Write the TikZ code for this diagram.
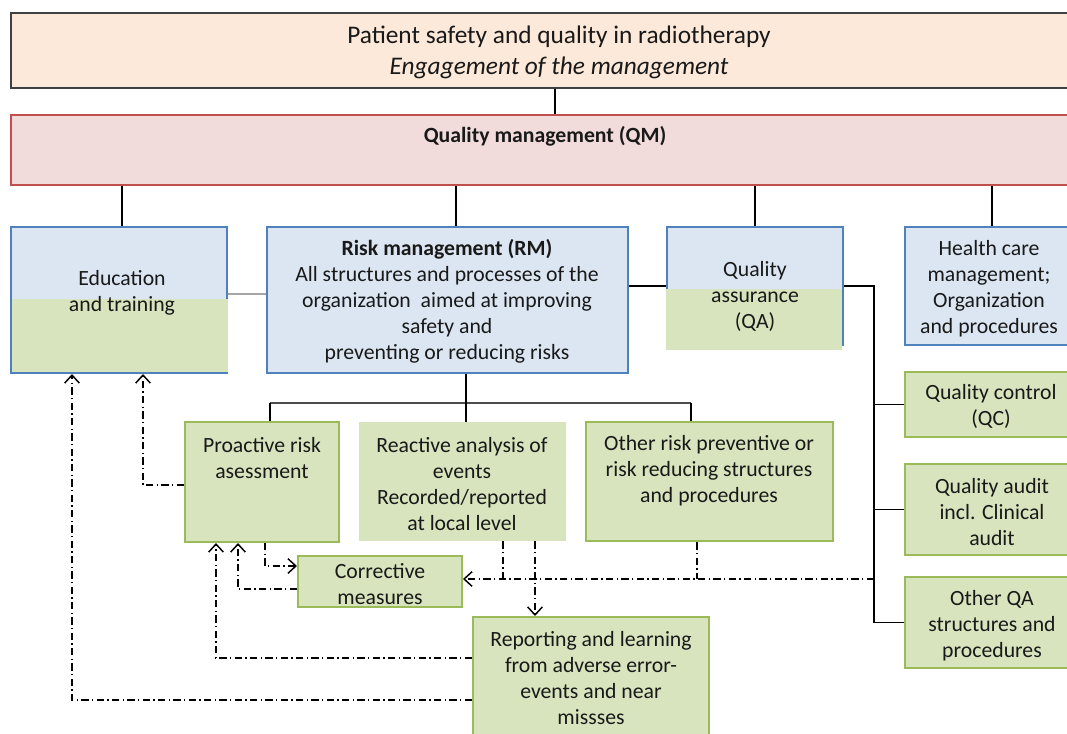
\documentclass[tikz,border=0pt]{standalone}
\usepackage{fontspec}
\setmainfont{Carlito}
\usetikzlibrary{fit,arrows.meta}
\definecolor{bfill}{HTML}{DCE6F2}
\definecolor{bline}{HTML}{4F81BD}
\definecolor{gfill}{HTML}{D7E4BD}
\definecolor{gline}{HTML}{9BBB59}
\definecolor{pfill}{HTML}{FDE9D9}
\definecolor{rfill}{HTML}{F2DCDB}
\definecolor{rline}{HTML}{C0504D}
\begin{document}
\begin{tikzpicture}[x=0.75pt,y=-0.75pt,
  font=\fontsize{16.3}{19.5}\selectfont,
  bluebox/.style={draw=bline,fill=bfill,line width=1.5pt,inner sep=0pt},
  greenbox/.style={draw=gline,fill=gfill,line width=1.5pt,inner sep=0pt},
  txt/.style={align=center,inner sep=0pt,text=black!90},
  conn/.style={draw=black,line width=0.8pt},
  dd/.style={line width=1.1pt,dash pattern=on 5.5pt off 2.5pt on 1pt off 2.5pt},
  arr/.style={-{Straight Barb[length=6pt,width=11pt]}}]
\useasboundingbox (0,0) rectangle (1067,733);
\clip (0,0) rectangle (1067,733);
% boxes
\node[fit={(11,13)(1099,88)},inner sep=0pt,fill=pfill,draw=black!75,line width=1.2pt] (top) {};
\node[fit={(11,115)(1099,185)},inner sep=0pt,fill=rfill,draw=rline,line width=2pt] (qm) {};
\node[bluebox,fit={(11,227)(227,373)}] (edu) {};
\fill[gfill] (12,299) rectangle (228,372);
\draw[bline,line width=1.5pt] (11,299) -- (11,373) -- (227,373);
\node[bluebox,fit={(267,227)(628,373)}] (rm) {};
\node[bluebox,fit={(667,227)(843,345)}] (qa) {};
\fill[gfill] (666,289) rectangle (842,350);
\node[bluebox,fit={(905,227)(1079,345)}] (hc) {};
\node[greenbox,fit={(905,372)(1079,437)}] (qc) {};
\node[greenbox,fit={(905,464)(1079,555)}] (aud) {};
\node[greenbox,fit={(905,577)(1079,668)}] (oqa) {};
\node[greenbox,fit={(185,422)(339,542)}] (pro) {};
\node[fit={(359,422)(566,541)},inner sep=0pt,fill=gfill] (rea) {};
\node[greenbox,line width=2pt,fit={(586,422)(833,541)}] (oth) {};
\node[greenbox,fit={(298,556)(462,607)}] (cor) {};
\node[greenbox,fit={(473,617)(709,760)}] (rep) {};
% texts
\node[txt,font=\fontsize{19}{23.3}\selectfont] (ttop) at (559,52) {Patient safety and quality in radiotherapy\\\textit{Engagement of the management}};
\node[txt,font=\fontsize{16.3}{19.5}\selectfont\bfseries] (tqm) at (545,136) {Quality management (QM)};
\node[txt] (tedu) at (122,293) {Education\\and training};
\node[txt] (trm) at (447,301) {\textbf{Risk management (RM)}\\All structures and processes of the\\organization\ \ aimed at improving\\safety and\\preventing or reducing risks};
\node[txt] (tqa) at (755,296) {Quality\\assurance\\(QA)};
\node[txt] (thc) at (989,288.5) {Health care\\management;\\Organization\\and procedures};
\node[txt] (tqc) at (991,406) {Quality control\\(QC)};
\node[txt] (taud) at (992,512) {Quality audit\\incl. Clinical\\audit};
\node[txt] (toqa) at (992,626) {Other QA\\structures and\\procedures};
\node[txt] (tpro) at (262,458) {Proactive risk\\asessment};
\node[txt] (trea) at (462,484) {Reactive analysis of\\events\\Recorded/reported\\at local level};
\node[txt] (toth) at (709,471) {Other risk preventive or\\risk reducing structures\\and procedures};
\node[txt] (tcor) at (380,584) {Corrective\\measures};
\node[txt] (trep) at (591,678.5) {Reporting and learning\\from adverse error-\\events and near\\missses};
% coordinates
\coordinate (x1) at (122,0);
\coordinate (x2) at (456,0);
\coordinate (x3) at (755,0);
\coordinate (x4) at (992,0);
\coordinate (bus) at (874,0);
\coordinate (ta) at (270,403);
\coordinate (tb) at (466,403);
\coordinate (tc) at (691,403);
\coordinate (a1) at (143,485);
\coordinate (c1) at (265,566);
\coordinate (c2) at (238,589);
\coordinate (c3) at (216,658);
\coordinate (c4) at (72,700);
\coordinate (c5) at (503,579);
\coordinate (c6) at (697,579);
\coordinate (c7) at (874,579);
\coordinate (c8) at (535,0);
% solid connectors
\draw[conn] (top) -- (qm);
\draw[conn] (qm.south -| x1) -- (edu.north -| x1);
\draw[conn] (qm.south -| x2) -- (rm.north -| x2);
\draw[conn] (qm.south -| x3) -- (qa.north -| x3);
\draw[conn] (qm.south -| x4) -- (hc.north -| x4);
\draw[draw=black!35,line width=1.5pt] ([yshift=4.5pt]edu.east) -- ([yshift=4.5pt]rm.west);
\draw[conn] (rm.east |- qa.west) -- (qa.west);
\draw[conn] (qa.east) -| (oqa.west -| bus) -- (oqa.west);
\draw[conn] (qc.west -| bus) -- (qc.west);
\draw[conn] (aud.west -| bus) -- (aud.west);
\draw[draw=black!70,line width=1.3pt] (ta) -- (tc);
\draw[conn] (rm.south -| tb) -- (tb);
\draw[conn] (ta) -- (ta |- pro.north);
\draw[conn] (tb) -- (tb |- rea.north);
\draw[conn] (tc) -- (tc |- oth.north);
% dash-dot connectors
\draw[dd,arr] (pro.west |- a1) -| (edu.south -| a1);
\draw[dd,arr] (pro.south -| c1) |- (cor.west |- c1);
\draw[dd,arr] (cor.west |- c2) -| (pro.south -| c2);
\draw[dd,arr] (rep.west |- c3) -| (pro.south -| c3);
\draw[dd,arr] (rep.west |- c4) -| (edu.south -| c4);
\draw[dd,arr] (c7) -- (cor.east |- c7);
\draw[dd] (rea.south -| c5) -- (c5);
\draw[dd] (oth.south -| c6) -- (c6);
\draw[dd,arr] (rea.south -| c8) -- (rep.north -| c8);
\end{tikzpicture}
\end{document}
